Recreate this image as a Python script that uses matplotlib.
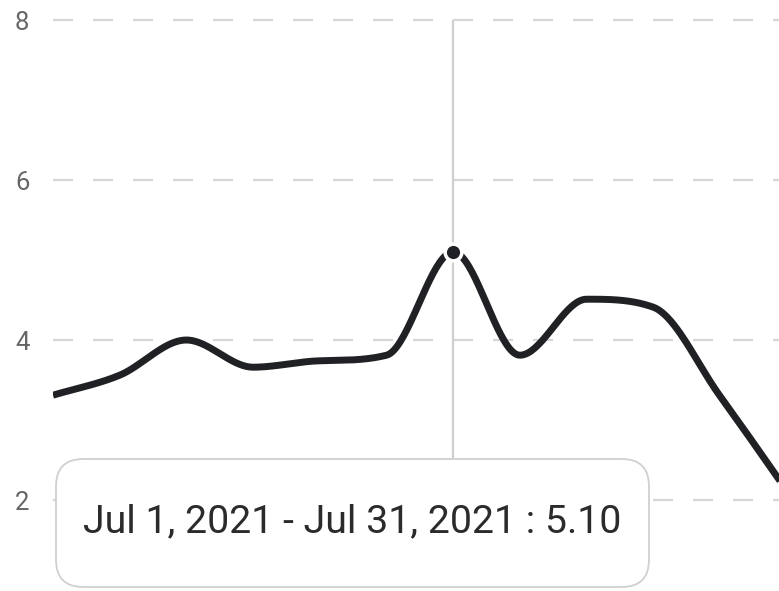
import matplotlib
matplotlib.use("Agg")
import matplotlib.pyplot as plt
import numpy as np
from matplotlib.patches import FancyBboxPatch

plt.rcParams['font.family'] = ['Roboto', 'DejaVu Sans']

months = ['Jan', 'Feb', 'Mar', 'Apr', 'May', 'Jun',
          'Jul', 'Aug', 'Sep', 'Oct', 'Nov', 'Dec']
values = [3.31, 3.56, 4.0, 3.66, 3.74, 3.81, 5.10, 3.81, 4.51, 4.41, 3.30, 2.12]
yticks = [2, 4, 6, 8]
hover_idx = 6
hover_text = 'Jul 1, 2021 - Jul 31, 2021 : 5.10'


def monotone(x, y, n=40):
    # monotone cubic hermite (like chart.js "monotone" mode)
    x = np.asarray(x, float)
    y = np.asarray(y, float)
    d = np.diff(y) / np.diff(x)
    m = np.zeros_like(y)
    m[0], m[-1] = d[0], d[-1]
    for i in range(1, len(y) - 1):
        if d[i - 1] * d[i] <= 0:
            m[i] = 0
        else:
            m[i] = (d[i - 1] + d[i]) / 2
    for i in range(len(d)):
        if d[i] == 0:
            m[i] = m[i + 1] = 0
            continue
        a, b = m[i] / d[i], m[i + 1] / d[i]
        s = a * a + b * b
        if s > 9:
            t = 3 / np.sqrt(s)
            m[i], m[i + 1] = t * a * d[i], t * b * d[i]
    xs, ys = [], []
    for i in range(len(d)):
        h = x[i + 1] - x[i]
        t = np.linspace(0, 1, n)
        h00 = 2 * t**3 - 3 * t**2 + 1
        h10 = t**3 - 2 * t**2 + t
        h01 = -2 * t**3 + 3 * t**2
        h11 = t**3 - t**2
        xs.append(x[i] + t * h)
        ys.append(h00 * y[i] + h10 * h * m[i] + h01 * y[i + 1] + h11 * h * m[i + 1])
    return np.concatenate(xs), np.concatenate(ys)


W, H = 779, 591
fig = plt.figure(figsize=(W / 100, H / 100), dpi=100)
ax = fig.add_axes([53 / W, 0, 1 - 53 / W, 1])

xi = np.arange(len(months))
sx, sy = monotone(xi, values)

for v in yticks:
    ax.axhline(v, color='#d6d6d6', lw=1.6, dashes=(9, 9), zorder=0)

# hover line
ax.vlines(xi[hover_idx], 1.65, 8, color='#cfcfcf', lw=1.6, zorder=1)

ax.plot(sx, sy, color='#202124', lw=5, solid_capstyle='butt', zorder=3)
ax.plot(xi[hover_idx], values[hover_idx], 'o', ms=12, color='#202124',
        mec='white', mew=2.5, zorder=4)

ax.set_xlim(0, (W - 53) / 66.7)
ax.set_ylim(8.25 - H / 80, 8.25)
ax.set_yticks(yticks)
ax.set_xticks([])
ax.tick_params(axis='y', length=0, pad=17, labelsize=18.5, labelcolor='#666666')
for s in ax.spines.values():
    s.set_visible(False)
for lbl in ax.get_yticklabels():
    lbl.set_clip_on(False)

# tooltip
box = FancyBboxPatch((56 / W, 4 / H), 593 / W, 128 / H,
                     boxstyle='round,pad=0,rounding_size=0.035',
                     transform=fig.transFigure, facecolor='white',
                     edgecolor='#d0d0d0', lw=1.3, zorder=5,
                     mutation_aspect=W / H)
fig.patches.append(box)
fig.text(352 / W, (H - 522) / H, hover_text, ha='center', va='center',
         fontsize=28.3, color='#2b2b2b', zorder=6)

fig.savefig('out.png', dpi=100)
